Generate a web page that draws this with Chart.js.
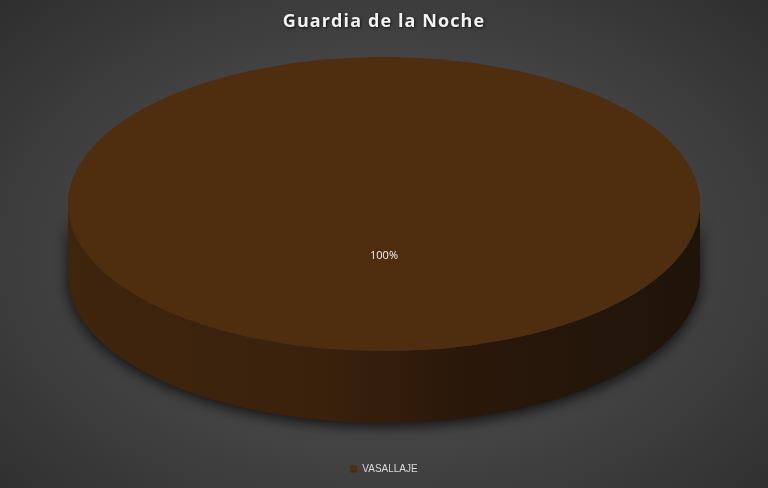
<!DOCTYPE html>
<html>
<head>
<meta charset="utf-8">
<script src="https://cdn.jsdelivr.net/npm/chart.js@4"></script>
<style>
  html, body { margin: 0; padding: 0; }
  #wrap {
    width: 768px; height: 488px; position: relative;
    background: radial-gradient(ellipse 75% 80% at 50% 52%, #575757 0%, #464646 45%, #2b2b2b 100%);
  }
</style>
</head>
<body>
<div id="wrap"><canvas id="pieChart"></canvas></div>
<script>
const categories = ['VASALLAJE'];
const values = [100];
const labelsPct = ['100%'];
const sliceColors = ['#4f2d0f'];

// ancho/alto de la elipse y grosor del disco
const STRETCH_X = 2.15;
const DEPTH = 72;

const pie3d = {
    id: 'pie3d',
    beforeDatasetsDraw(chart) {
        const arc = chart.getDatasetMeta(0).data[0];
        if (!arc) return;
        const { x, y, outerRadius: r } = arc;
        const ctx = chart.ctx;
        ctx.save();
        ctx.translate(x, y);
        ctx.scale(STRETCH_X, 1);
        ctx.translate(-x, -y);

        // lateral del cilindro
        const grad = ctx.createLinearGradient(x - r, 0, x + r, 0);
        grad.addColorStop(0, '#3f250d');
        grad.addColorStop(0.4, '#3a210c');
        grad.addColorStop(0.62, '#2a180a');
        grad.addColorStop(1, '#1f1409');
        ctx.save();
        ctx.shadowColor = 'rgba(0,0,0,0.75)';
        ctx.shadowBlur = 14;
        ctx.shadowOffsetY = 4;
        ctx.beginPath();
        ctx.arc(x, y + DEPTH, r, 0, Math.PI);
        ctx.lineTo(x - r, y);
        ctx.arc(x, y, r, Math.PI, 0, true);
        ctx.closePath();
        ctx.fillStyle = grad;
        ctx.fill();
        ctx.restore();
    },
    afterDatasetsDraw(chart) {
        const arc = chart.getDatasetMeta(0).data[0];
        if (!arc) return;
        const ctx = chart.ctx;
        ctx.restore();
        ctx.save();
        ctx.font = '11px "Open Sans", sans-serif';
        ctx.fillStyle = '#f2f2f2';
        ctx.textAlign = 'center';
        ctx.textBaseline = 'middle';
        ctx.fillText(labelsPct[0], arc.x, arc.y + arc.outerRadius * 0.35);
        ctx.restore();
    }
};

const chart = new Chart(document.getElementById('pieChart'), {
    type: 'pie',
    data: {
        labels: categories,
        datasets: [{ data: values, backgroundColor: sliceColors, borderWidth: 0, clip: false }]
    },
    options: {
        responsive: true,
        maintainAspectRatio: false,
        animation: false,
        layout: { padding: { top: 5, bottom: 4 } },
        plugins: {
            title: {
                display: true,
                text: 'Guardia de la Noche',
                color: '#f2f2f2',
                font: { family: '"Open Sans", sans-serif', size: 18, weight: 'bold' },
                padding: { top: 6, bottom: 24.4 }
            },
            legend: {
                position: 'bottom',
                // titulo vacio: solo reserva el hueco para el grosor del disco
                title: { display: true, text: '', font: { size: 10 }, padding: { top: 91, bottom: 0 } },
                labels: {
                    color: '#d9d9d9',
                    boxWidth: 7,
                    boxHeight: 7,
                    padding: 10,
                    font: { family: '"Liberation Sans", sans-serif', size: 10 }
                }
            },
            tooltip: { enabled: false }
        }
    },
    plugins: [pie3d]
});

// espaciado y sombra del titulo, como en el original
const tb = chart.titleBlock;
const drawTitle = tb.draw.bind(tb);
tb.draw = function () {
    const ctx = chart.ctx;
    ctx.save();
    ctx.letterSpacing = '1.1px';
    ctx.shadowColor = 'rgba(0,0,0,0.7)';
    ctx.shadowBlur = 3;
    ctx.shadowOffsetX = 1;
    ctx.shadowOffsetY = 1;
    drawTitle();
    ctx.restore();
};
chart.draw();
</script>
</body>
</html>
